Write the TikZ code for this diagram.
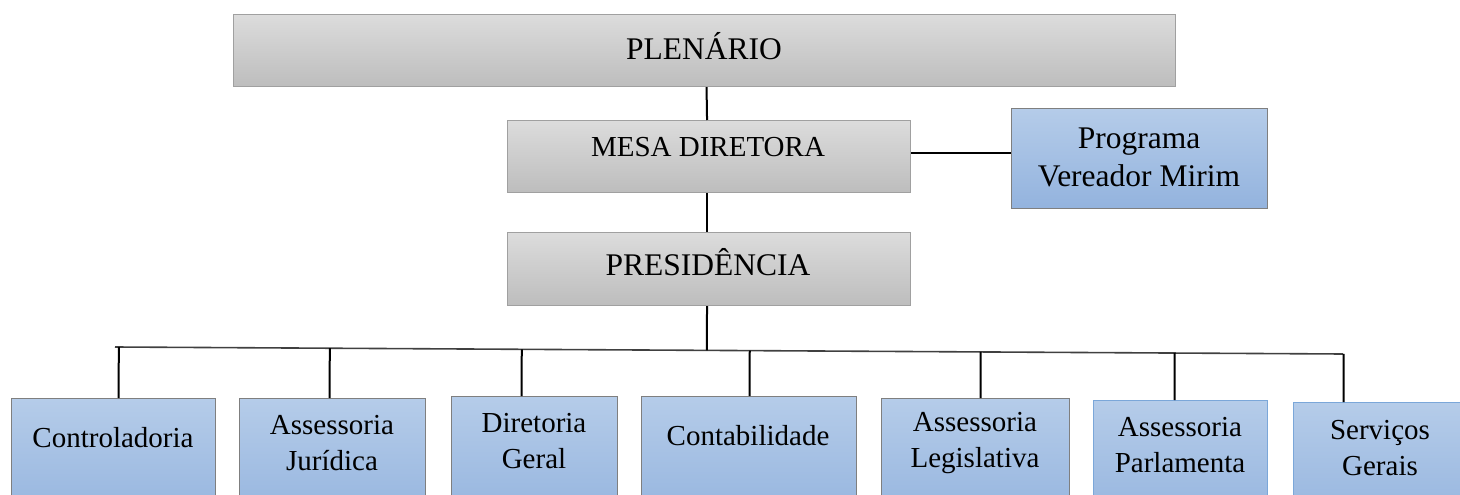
\documentclass[tikz,border=0pt]{standalone}
\usepackage{fontspec}
\setmainfont{Liberation Serif}
\usetikzlibrary{calc}
\definecolor{gtop}{HTML}{DCDCDC}
\definecolor{gbot}{HTML}{BDBDBD}
\definecolor{gline}{HTML}{A0A0A0}
\definecolor{btop}{HTML}{B5CCE9}
\definecolor{bbot}{HTML}{93B3DE}
\definecolor{bline}{HTML}{7F7F7F}
\definecolor{bline2}{HTML}{7BA7D9}
\begin{document}
\begin{tikzpicture}[x=1pt,y=-1pt,
  gbox/.style={draw=gline, line width=1.1pt, top color=gtop, bottom color=gbot, inner sep=0pt, anchor=north west},
  bbox/.style={draw=bline, line width=1.1pt, top color=btop, bottom color=bbot, inner sep=0pt, anchor=north west},
  txt/.style={inner sep=0pt, align=center, font=\fontsize{29}{36}\selectfont},
  bigtxt/.style={inner sep=0pt, align=center, font=\fontsize{31.5}{38}\selectfont},
  conn/.style={line width=2pt, black},
  bus/.style={line width=1.6pt, black!75}]
\useasboundingbox (0,0) rectangle (1460,495);
\clip (0,0) rectangle (1460,495);
% top boxes
\node[gbox, minimum width=942pt, minimum height=72pt] (plen) at (233,14) {};
\node[bigtxt] (plenT) at (704,46) {PLENÁRIO};
\node[gbox, minimum width=403pt, minimum height=72pt] (mesa) at (507,120) {};
\node[txt] (mesaT) at (708,147) {MESA DIRETORA};
\node[gbox, minimum width=403pt, minimum height=73pt] (pres) at (507,232) {};
\node[bigtxt] (presT) at (708,262) {PRESIDÊNCIA};
\node[bbox, minimum width=256pt, minimum height=100pt] (prog) at (1011,108) {};
\node[bigtxt] (progT) at (1139,157) {Programa\\Vereador Mirim};
% bottom boxes
\node[bbox, minimum width=204pt, minimum height=130pt] (c1) at (11,398) {};
\node[txt] (c1T) at (113,438) {Controladoria};
\node[bbox, minimum width=186pt, minimum height=130pt] (c2) at (239,398) {};
\node[txt] (c2T) at (332,443) {Assessoria\\Jurídica};
\node[bbox, minimum width=166pt, minimum height=130pt] (c3) at (451,396) {};
\node[txt] (c3T) at (534,441) {Diretoria\\Geral};
\node[bbox, minimum width=215pt, minimum height=130pt] (c4) at (641,396) {};
\node[txt] (c4T) at (748,436) {Contabilidade};
\node[bbox, minimum width=188pt, minimum height=130pt] (c5) at (881,398) {};
\node[txt] (c5T) at (975,443) {Assessoria\\Legislativa};
\node[bbox, draw=bline2, minimum width=174pt, minimum height=130pt] (c6) at (1093,400) {};
\node[txt] (c6T) at (1180,445) {Assessoria\\Parlamenta};
\node[bbox, draw=bline2, minimum width=175pt, minimum height=130pt] (c7) at (1293,402) {};
\node[txt] (c7T) at (1380,448) {Serviços\\Gerais};
% connectors
\draw[conn] ([xshift=2pt]plen.south) -- ([xshift=-2pt]mesa.north);
\draw[conn] ([xshift=-2pt]mesa.south) -- ([xshift=-2pt]pres.north);
\draw[conn] ([yshift=4pt]mesa.east) -- ([yshift=4pt]mesa.east -| prog.west);
\coordinate (busL) at (115,347);
\coordinate (busR) at (1343,354);
\draw[bus] (busL) -- (busR);
\draw[conn] ([xshift=-2pt]pres.south) -- ($(busL)!([xshift=-2pt]pres.south)!(busR)$);
\foreach \c/\dx in {c1/5, c2/-3, c3/-13, c4/0.5, c5/5, c6/-6, c7/-37.5} {
  \draw[conn] ($(busL)!([xshift=\dx pt]\c.north)!(busR)$) -- ([xshift=\dx pt]\c.north);
}
\end{tikzpicture}
\end{document}
